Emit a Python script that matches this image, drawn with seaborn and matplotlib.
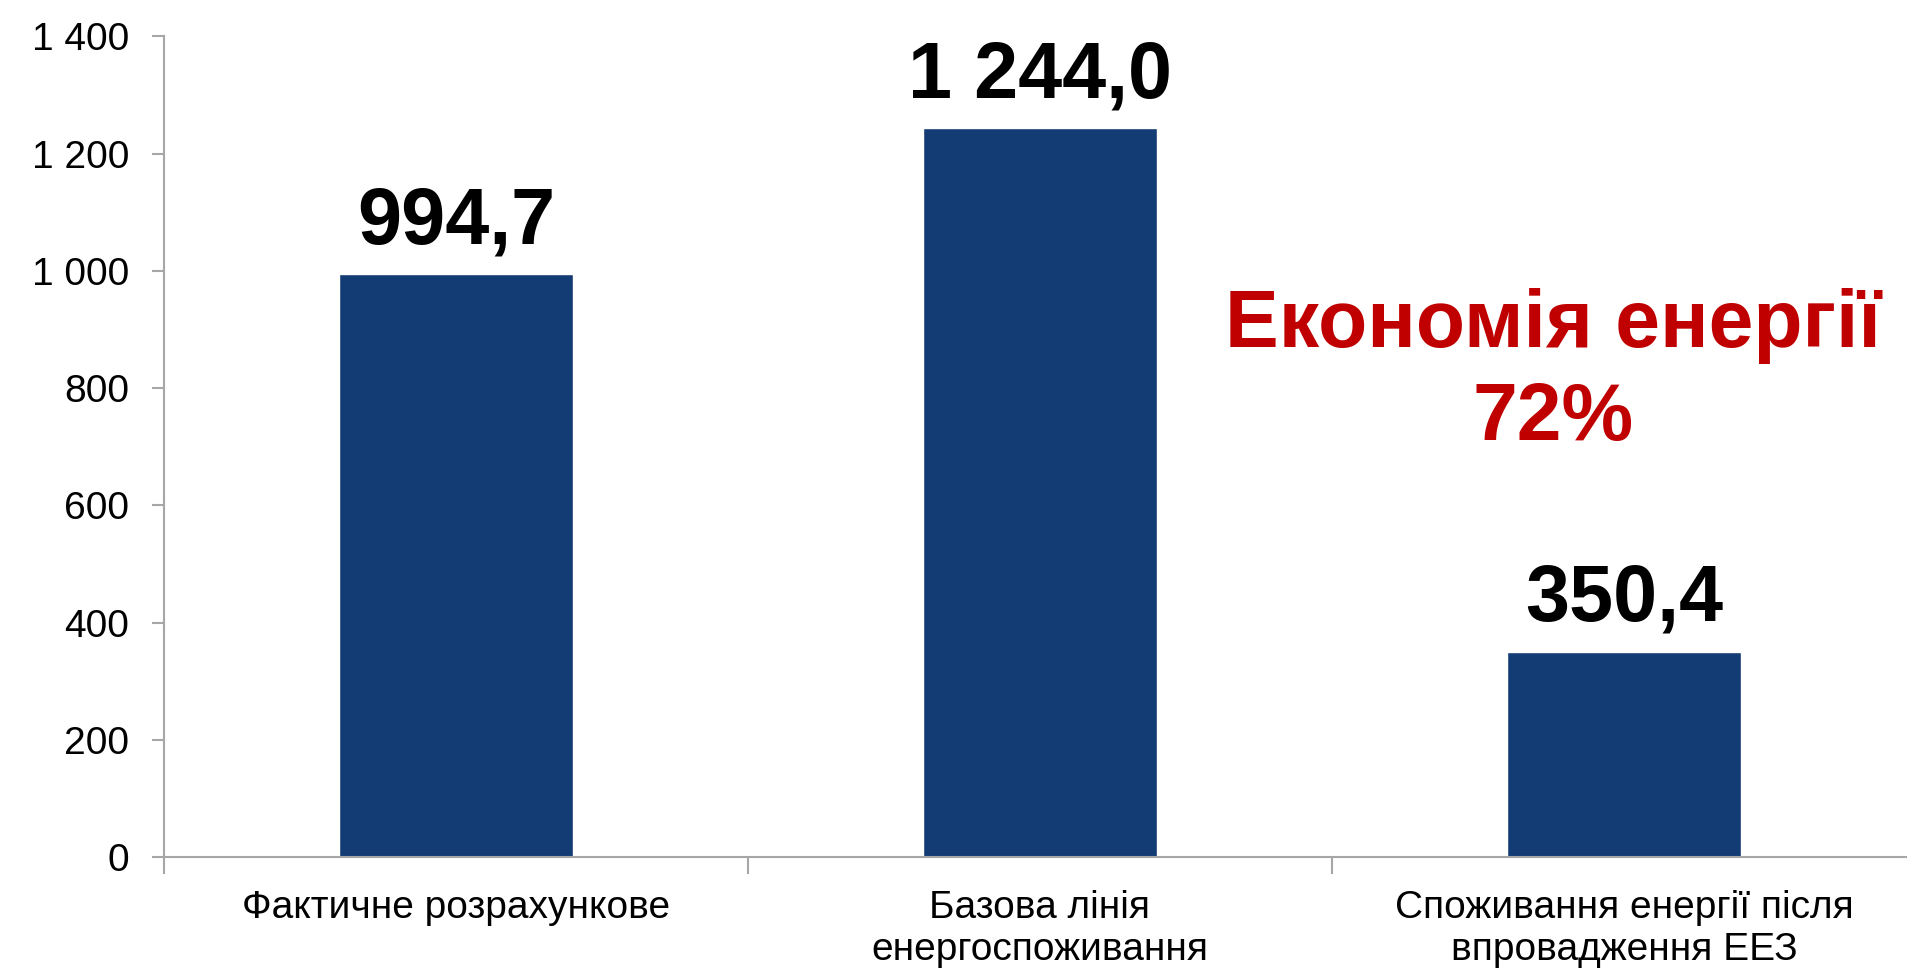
import numpy as np
import pandas as pd
import matplotlib
matplotlib.use("Agg")
import matplotlib.pyplot as plt
import seaborn as sns
from matplotlib.ticker import FuncFormatter, FixedLocator

# data
categories = ["Фактичне розрахункове",
              "Базова лінія\nенергоспоживання",
              "Споживання енергії після\nвпровадження ЕЕЗ"]
values = [994.7, 1244.0, 350.4]
value_labels = ["994,7", "1 244,0", "350,4"]
y_ticks = [0, 200, 400, 600, 800, 1000, 1200, 1400]
note_line1 = "Економія енергії"
note_line2 = "72%"

df = pd.DataFrame({"category": categories, "value": values})

sns.set_style("white")
plt.rcParams['font.family'] = ['Liberation Sans', 'DejaVu Sans']

fig = plt.figure(figsize=(19.07, 9.68), dpi=100)
ax = fig.add_axes([0.086, 0.1147, 0.9187, 0.8476])

sns.barplot(data=df, x="category", y="value", color="#133C74",
            saturation=1, width=0.4, ax=ax)

ax.set_xlim(-0.5, 2.5)
ax.set_ylim(0, 1400)
ax.set_xlabel("")
ax.set_ylabel("")

# spines
for s in ["top", "right"]:
    ax.spines[s].set_visible(False)
for s in ["left", "bottom"]:
    ax.spines[s].set_color("#A6A6A6")
    ax.spines[s].set_linewidth(1.5)

# y axis
ax.set_yticks(y_ticks)
ax.yaxis.set_major_formatter(FuncFormatter(lambda v, p: f"{int(v):,}".replace(",", " ")))
ax.tick_params(axis="y", which="major", left=True, length=9, width=1.5,
               color="#A6A6A6", labelsize=28, pad=16, labelcolor="black")

# x axis: labels at centres, tick marks at category boundaries
ax.tick_params(axis="x", which="major", bottom=True, length=0, labelsize=28, pad=24,
               labelcolor="black")
ax.xaxis.set_minor_locator(FixedLocator([-0.5, 0.5, 1.5, 2.5]))
ax.tick_params(axis="x", which="minor", bottom=True, length=12, width=1.5,
               color="#A6A6A6")
for lbl in ax.get_xticklabels():
    lbl.set_linespacing(1.2)

# value labels on bars
ax.bar_label(ax.containers[0], labels=value_labels, padding=10,
             fontsize=57, fontweight="bold", color="black")

# savings note
ax.text(1.878, 870, note_line1, ha="center", va="baseline",
        fontsize=58, fontweight="bold", color="#C00000")
ax.text(1.878, 711, note_line2, ha="center", va="baseline",
        fontsize=58, fontweight="bold", color="#C00000")

fig.savefig("out.png", dpi=100, facecolor="white")
